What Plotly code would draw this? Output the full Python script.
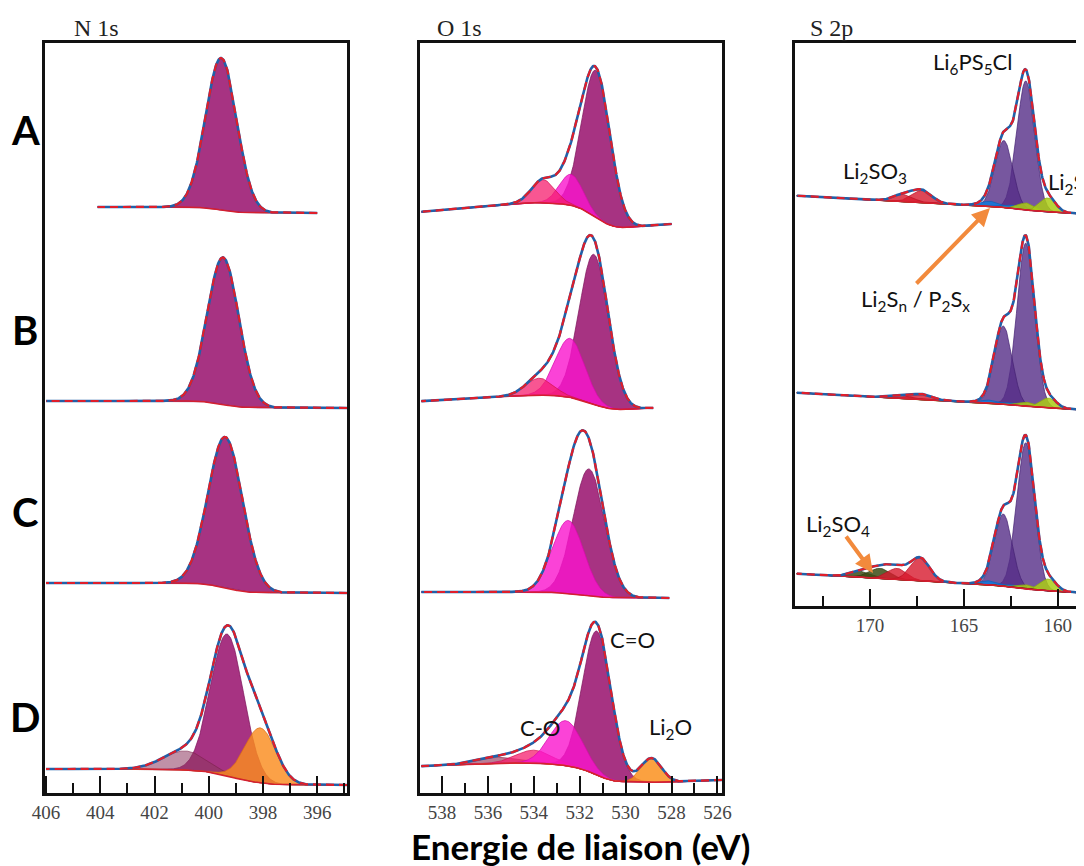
import numpy as np
import plotly.graph_objects as go
from math import erf, sqrt

# ------------------------------------------------------------------ data
ROW_LABELS = ["A", "B", "C", "D"]
PANEL_TITLES = ["N 1s", "O 1s", "S 2p"]

# spectrum energy windows (high eV, low eV)
N1S_RANGES = [(404.1, 396.0), (406.0, 394.9), (406.0, 394.9), (406.0, 394.9)]
O1S_RANGES = [(538.9, 528.0), (538.9, 528.8), (538.9, 528.1), (538.9, 525.8)]
S2P_RANGES = [(173.9, 158.6), (173.9, 158.6), (173.9, 158.6)]

# background: (level on high-BE side, level on low-BE side, linear slope per eV)
N1S_BG = [(586, 580, 0.0), (392, 385, 0.0), (210, 200, 0.0), (24, 8, 0.0)]
O1S_BG = [(603, 569, -2.0), (405, 385, -1.3), (201, 195, 0.0), (40, 13, -1.0)]
S2P_BG = [(395, 392, 1.0), (198, 196, 1.0), (17, 13, 1.0)]

# fitted components: (centre eV, FWHM eV, height, species)
N1S_PEAKS = [
    [(399.54, 1.35, 152, "N")],
    [(399.47, 1.37, 147, "N")],
    [(399.39, 1.50, 151, "N")],
    [(399.32, 1.44, 142, "N"), (400.87, 1.90, 19, "Nhi"), (398.10, 1.35, 55, "Nlo")],
]
O1S_PEAKS = [
    [(531.29, 1.45, 147, "C=O"), (532.37, 1.20, 31, "C-O"), (533.58, 1.20, 23, "Ohi")],
    [(531.38, 1.50, 150, "C=O"), (532.42, 1.50, 59, "C-O"), (533.76, 1.40, 17, "Ohi")],
    [(531.60, 1.60, 127, "C=O"), (532.50, 1.60, 73, "C-O")],
    [(531.25, 1.47, 144, "C=O"), (535.60, 2.00, 6, "Ohi2"), (534.00, 1.80, 13, "Ohi"),
     (532.60, 1.70, 45, "C-O"), (528.87, 1.05, 24, "Li2O")],
]
S2P_PEAKS = [
    [(161.70, 1.10, 129, "LPSC"), (162.87, 1.10, 67, "LPSC"), (163.60, 1.20, 5, "Li2Sn"),
     (162.40, 1.20, 3, "Li2Sn"), (161.65, 1.00, 7, "Li2S"), (160.53, 1.00, 14, "Li2S"),
     (167.23, 1.20, 12, "Li2SO3"), (168.24, 1.20, 7, "Li2SO3")],
    [(161.70, 1.10, 163, "LPSC"), (162.90, 1.10, 78, "LPSC"), (163.60, 1.20, 3, "Li2Sn"),
     (162.40, 1.20, 2, "Li2Sn"), (161.60, 1.00, 4, "Li2S"), (160.50, 1.00, 10, "Li2S"),
     (167.20, 1.20, 5, "Li2SO3"), (168.30, 1.20, 3, "Li2SO3")],
    [(161.70, 1.10, 146, "LPSC"), (162.90, 1.10, 72, "LPSC"), (163.60, 1.20, 4, "Li2Sn"),
     (162.40, 1.20, 2, "Li2Sn"), (161.60, 1.00, 4, "Li2S"), (160.50, 1.00, 12, "Li2S"),
     (170.50, 1.30, 6, "Li2SO4"), (169.47, 1.30, 10, "Li2SO4"),
     (168.56, 1.20, 11, "Li2SO3"), (167.34, 1.20, 23, "Li2SO3")],
]

COLORS = {
    "N": ("rgba(160,35,120,0.93)", "rgba(125,20,90,0.9)"),
    "Nhi": ("rgba(140,55,95,0.55)", "rgba(120,30,70,0.7)"),
    "Nlo": ("rgba(250,140,30,0.82)", "rgba(220,110,20,0.9)"),
    "C=O": ("rgba(160,35,120,0.93)", "rgba(125,20,90,0.9)"),
    "C-O": ("rgba(250,20,205,0.8)", "rgba(215,10,170,0.9)"),
    "Ohi": ("rgba(245,30,110,0.75)", "rgba(210,20,80,0.9)"),
    "Ohi2": ("rgba(130,20,60,0.55)", "rgba(120,20,50,0.7)"),
    "Li2O": ("rgba(250,145,30,0.85)", "rgba(225,115,20,0.9)"),
    "LPSC": ("rgba(85,45,135,0.8)", "rgba(70,35,115,0.9)"),
    "Li2Sn": ("rgba(20,120,215,0.9)", "rgba(15,95,185,0.9)"),
    "Li2S": ("rgba(170,205,20,0.85)", "rgba(140,175,10,0.9)"),
    "Li2SO3": ("rgba(215,25,45,0.8)", "rgba(185,15,35,0.9)"),
    "Li2SO4": ("rgba(60,75,20,0.85)", "rgba(45,60,15,0.9)"),
}

# page offset of the plot inside the browser window (default body margin)
OFF = 8
W, H = 1084 - OFF, 866 - OFF

PANELS = [
    dict(ranges=N1S_RANGES, bg=N1S_BG, peaks=N1S_PEAKS, xr=[406.04, 394.9], yr=[0, 750],
         dtick=2, minor=1, dom_x=(45, 347), dom_y=(43, 793)),
    dict(ranges=O1S_RANGES, bg=O1S_BG, peaks=O1S_PEAKS, xr=[538.96, 525.8], yr=[0, 750],
         dtick=2, minor=1, dom_x=(420, 722), dom_y=(43, 793)),
    dict(ranges=S2P_RANGES, bg=S2P_BG, peaks=S2P_PEAKS, xr=[174.0, 158.6], yr=[0, 563],
         dtick=5, minor=2.5, dom_x=(795, 1084), dom_y=(43, 606)),
]


def gauss(E, c, w, h):
    return h * np.exp(-4 * np.log(2) * (E - c) ** 2 / w ** 2)


def shirley_fraction(E, peaks):
    tot = sum(h * w for c, w, h, _ in peaks)
    f = np.zeros_like(E)
    for c, w, h, _ in peaks:
        s = w / (2 * sqrt(2 * np.log(2)))
        f += h * w * 0.5 * (1 + np.array([erf(v) for v in (E - c) / (s * sqrt(2))]))
    return f / tot


fig = go.Figure()
for pi, P in enumerate(PANELS):
    xa = "x" if pi == 0 else f"x{pi + 1}"
    ya = "y" if pi == 0 else f"y{pi + 1}"
    for (ehi, elo), (bhi, blo, slope), peaks in zip(P["ranges"], P["bg"], P["peaks"]):
        E = np.linspace(elo, ehi, int((ehi - elo) / 0.02) + 1)
        bg = blo + (bhi - blo) * shirley_fraction(E, peaks) + slope * (E - elo)
        env = bg.copy()
        for c, w, h, sp in peaks:
            g = gauss(E, c, w, h)
            env += g
            fc, lc = COLORS[sp]
            fig.add_trace(go.Scatter(
                x=np.concatenate([E, E[::-1]]), y=np.concatenate([bg + g, bg[::-1]]),
                fill="toself", fillcolor=fc, mode="lines", line=dict(color=lc, width=0.8),
                xaxis=xa, yaxis=ya, hoverinfo="skip", showlegend=False))
        fig.add_trace(go.Scatter(x=E, y=bg, mode="lines", line=dict(color="#d42030", width=1.5),
                                 xaxis=xa, yaxis=ya, hoverinfo="skip", showlegend=False))
        fig.add_trace(go.Scatter(x=E, y=env, mode="lines", line=dict(color="#2160a8", width=2.6),
                                 xaxis=xa, yaxis=ya, hoverinfo="skip", showlegend=False))
        fig.add_trace(go.Scatter(x=E, y=env, mode="lines",
                                 line=dict(color="#e01e2a", width=2.2, dash="8px,5px"),
                                 xaxis=xa, yaxis=ya, hoverinfo="skip", showlegend=False))


def px(v):
    return (v - OFF) / W


def py(v):
    return 1 - (v - OFF) / H


layout = dict(template="none", width=W, height=H, margin=dict(l=0, r=0, t=0, b=0, pad=0),
              autosize=False, paper_bgcolor="white", plot_bgcolor="white", showlegend=False)
for pi, P in enumerate(PANELS):
    xk = "xaxis" if pi == 0 else f"xaxis{pi + 1}"
    yk = "yaxis" if pi == 0 else f"yaxis{pi + 1}"
    ya = "y" if pi == 0 else f"y{pi + 1}"
    xa = "x" if pi == 0 else f"x{pi + 1}"
    x0, x1 = P["dom_x"]
    y0, y1 = P["dom_y"]
    layout[xk] = dict(domain=[px(x0), min(1.0, px(x1))], range=P["xr"], anchor=ya,
                      automargin=False,
                      showgrid=False, zeroline=False, showline=True, linecolor="#111",
                      linewidth=2.5, mirror=True, ticks="inside", ticklen=17, tickwidth=2,
                      tickcolor="#111", dtick=P["dtick"], tick0=0,
                      minor=dict(ticks="inside", ticklen=10, tickwidth=2, tickcolor="#111",
                                 dtick=P["minor"], tick0=0, showgrid=False),
                      tickfont=dict(family="Liberation Serif", size=19, color="#444"))
    layout[yk] = dict(domain=[py(y1), py(y0)], range=P["yr"], anchor=xa,
                      automargin=False,
                      showgrid=False, zeroline=False, showticklabels=False, ticks="",
                      showline=True, linecolor="#111", linewidth=2.5, mirror=(pi < 2))
fig.update_layout(**layout)

ann = []
for title, xleft in zip(PANEL_TITLES, [72, 435, 808]):
    ann.append(dict(text=title, x=px(xleft), y=py(28), xref="paper", yref="paper",
                    xanchor="left", yanchor="middle", showarrow=False,
                    font=dict(family="Liberation Serif", size=24, color="#222")))
for lab, yc in zip(ROW_LABELS, [130, 330, 512, 717]):
    ann.append(dict(text=f"<b>{lab}</b>", x=px(25), y=py(yc), xref="paper", yref="paper",
                    xanchor="center", yanchor="middle", showarrow=False,
                    font=dict(family="Lato", size=40, color="black")))
ann.append(dict(text="<b>Energie de liaison (eV)</b>", x=px(580), y=py(846), xref="paper",
                yref="paper", xanchor="center", yanchor="middle", showarrow=False,
                font=dict(family="Lato", size=35, color="black")))

LABEL_FONT = dict(family="Lato", size=22, color="#111")
labels = [
    ("C=O", 632, 639, "center"),
    ("C-O", 540, 727, "center"),
    ("Li<sub>2</sub>O", 670, 728, "center"),
    ("Li<sub>6</sub>PS<sub>5</sub>Cl", 973, 63, "center"),
    ("Li<sub>2</sub>SO<sub>3</sub>", 875, 172, "center"),
    ("Li<sub>2</sub>S", 1046, 183, "left"),
    ("Li<sub>2</sub>S<sub>n</sub> / P<sub>2</sub>S<sub>x</sub>", 915, 300, "center"),
    ("Li<sub>2</sub>SO<sub>4</sub>", 838, 525, "center"),
]
for t, x, y, xa in labels:
    ann.append(dict(text=t, x=px(x), y=py(y), xref="paper", yref="paper", xanchor=xa,
                    yanchor="middle", showarrow=False, font=LABEL_FONT))
for hx, hy, ax, ay in [(990, 208, -75, 77), (873, 573, -28, -38)]:
    ann.append(dict(text="", x=px(hx), y=py(hy), xref="paper", yref="paper", ax=ax, ay=ay,
                    showarrow=True, arrowhead=2, arrowsize=0.9, arrowwidth=4,
                    arrowcolor="#f28a3c"))
fig.update_layout(annotations=ann)

fig.write_html("out.html")
